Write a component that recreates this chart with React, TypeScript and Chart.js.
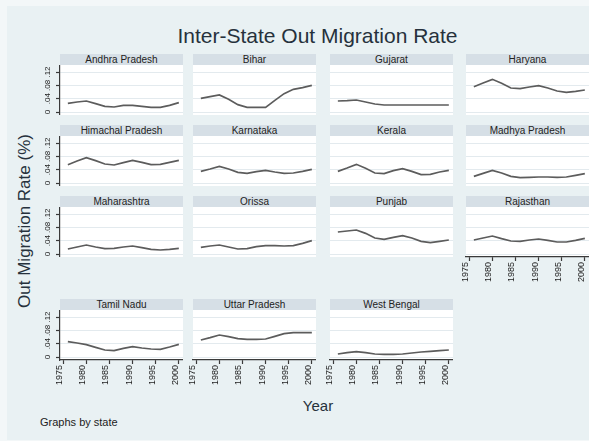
import React, { useEffect, useRef } from "react";
import { Chart, registerables } from "chart.js";

Chart.register(...registerables);

// ---------- data ----------
const years = [1976, 1978, 1980, 1982, 1984, 1986, 1988, 1990, 1992, 1994, 1996, 1998, 2000];
const xTickYears = [1975, 1980, 1985, 1990, 1995, 2000];
const yTickValues = [0, 0.04, 0.08, 0.12];
const yTickLabels = ["0", ".04", ".08", ".12"];

const stateNames = [
  "Andhra Pradesh", "Bihar", "Gujarat", "Haryana",
  "Himachal Pradesh", "Karnataka", "Kerala", "Madhya Pradesh",
  "Maharashtra", "Orissa", "Punjab", "Rajasthan",
  "Tamil Nadu", "Uttar Pradesh", "West Bengal",
];

const andhraPradesh = [0.026, 0.030, 0.033, 0.025, 0.017, 0.015, 0.020, 0.020, 0.017, 0.014, 0.014, 0.020, 0.028];
const bihar = [0.041, 0.046, 0.051, 0.038, 0.022, 0.014, 0.014, 0.014, 0.035, 0.055, 0.068, 0.073, 0.080];
const gujarat = [0.033, 0.034, 0.036, 0.030, 0.024, 0.021, 0.021, 0.021, 0.021, 0.021, 0.021, 0.021, 0.021];
const haryana = [0.076, 0.087, 0.098, 0.086, 0.072, 0.070, 0.075, 0.079, 0.072, 0.063, 0.059, 0.062, 0.066];
const himachalPradesh = [0.055, 0.066, 0.076, 0.067, 0.057, 0.054, 0.061, 0.068, 0.062, 0.055, 0.056, 0.062, 0.068];
const karnataka = [0.035, 0.042, 0.050, 0.042, 0.032, 0.029, 0.034, 0.038, 0.033, 0.029, 0.030, 0.035, 0.041];
const kerala = [0.035, 0.045, 0.056, 0.044, 0.030, 0.028, 0.037, 0.043, 0.035, 0.025, 0.026, 0.033, 0.038];
const madhyaPradesh = [0.020, 0.029, 0.038, 0.030, 0.020, 0.016, 0.017, 0.018, 0.018, 0.017, 0.018, 0.023, 0.028];
const maharashtra = [0.015, 0.021, 0.027, 0.021, 0.016, 0.017, 0.021, 0.024, 0.019, 0.014, 0.012, 0.014, 0.017];
const orissa = [0.020, 0.024, 0.027, 0.021, 0.015, 0.016, 0.022, 0.025, 0.025, 0.024, 0.025, 0.032, 0.040];
const punjab = [0.066, 0.069, 0.072, 0.062, 0.048, 0.044, 0.050, 0.055, 0.048, 0.038, 0.034, 0.038, 0.042];
const rajasthan = [0.042, 0.048, 0.054, 0.046, 0.039, 0.038, 0.042, 0.045, 0.041, 0.036, 0.036, 0.041, 0.047];
const tamilNadu = [0.046, 0.042, 0.037, 0.029, 0.021, 0.019, 0.026, 0.031, 0.027, 0.024, 0.023, 0.030, 0.038];
const uttarPradesh = [0.051, 0.058, 0.066, 0.061, 0.055, 0.053, 0.053, 0.054, 0.062, 0.070, 0.073, 0.073, 0.073];
const westBengal = [0.009, 0.013, 0.016, 0.013, 0.009, 0.008, 0.008, 0.009, 0.012, 0.015, 0.017, 0.019, 0.021];

const stateValues = [
  andhraPradesh, bihar, gujarat, haryana,
  himachalPradesh, karnataka, kerala, madhyaPradesh,
  maharashtra, orissa, punjab, rajasthan,
  tamilNadu, uttarPradesh, westBengal,
];

// ---------- layout / style ----------
const FONT = '"Liberation Sans", Arial, Helvetica, sans-serif';
const COL_LEFT = [60, 193, 330, 466];
const ROW_ZERO = [112, 183, 254, 357];
const PLOT_W = 123;
const PLOT_ABOVE = 47;
const PLOT_BELOW = 3;
const STRIP_H = 11;
const Y_AXIS_W = 45;
const SIDE_PAD = 9;
const X_AXIS_H = 30;
const X_MIN = 1974.3;
const X_MAX = 2000.9;
const Y_MIN = -PLOT_BELOW / 333.3;
const Y_MAX = PLOT_ABOVE / 333.3;

const BG_OUTER = "#f3f7f8";
const BG = "#e9f1f3";
const STRIP = "#d6dfe6";
const GRID = "#e3eaee";
const AXIS = "#3a3a3a";
const LINE = "#5c5c5c";
const TEXT = "#222222";

const plotBg = {
  id: "plotBg",
  beforeDraw(chart: any) {
    const { ctx, chartArea } = chart;
    if (!chartArea) return;
    ctx.save();
    ctx.fillStyle = "#ffffff";
    ctx.fillRect(chartArea.left, chartArea.top, chartArea.right - chartArea.left, chartArea.bottom - chartArea.top);
    ctx.restore();
  },
};

function Panel({ index }: { index: number }) {
  const ref = useRef<HTMLCanvasElement | null>(null);
  const r = Math.floor(index / 4);
  const c = index % 4;
  const hasY = c === 0;
  const hasX = r === 3 || (r === 2 && c === 3);
  const leftW = hasY ? Y_AXIS_W : hasX ? SIDE_PAD : 0;
  const plotTop = ROW_ZERO[r] - PLOT_ABOVE;
  const plotH = PLOT_ABOVE + PLOT_BELOW;
  const left = COL_LEFT[c] - leftW;
  const width = PLOT_W + leftW;
  const height = plotH + (hasX ? X_AXIS_H : 0);

  useEffect(() => {
    if (!ref.current) return;
    const values = stateValues[index];
    const zeroPad = (s: any) => {
      s.paddingTop = 0;
      s.paddingBottom = 0;
      s.paddingLeft = 0;
      s.paddingRight = 0;
    };
    const chart = new Chart(ref.current, {
      type: "line",
      data: {
        datasets: [
          {
            label: stateNames[index],
            data: years.map((yr, i) => ({ x: yr, y: values[i] })),
            borderColor: LINE,
            borderWidth: 1.7,
            pointRadius: 0,
            tension: 0,
            fill: false,
          },
        ],
      },
      options: {
        animation: false,
        responsive: false,
        maintainAspectRatio: false,
        layout: { padding: 0 },
        plugins: { legend: { display: false }, tooltip: { enabled: false }, title: { display: false } },
        scales: {
          x: {
            type: "linear",
            min: X_MIN,
            max: X_MAX,
            display: hasX,
            afterBuildTicks: (s: any) => {
              s.ticks = xTickYears.map((v) => ({ value: v }));
            },
            afterFit: (s: any) => {
              s.height = hasX ? X_AXIS_H : 0;
              zeroPad(s);
            },
            border: { display: true, color: AXIS, width: 1.2 },
            grid: { display: true, drawOnChartArea: false, drawTicks: true, tickLength: 4, tickColor: AXIS, tickWidth: 1.2 },
            ticks: {
              autoSkip: false,
              minRotation: 90,
              maxRotation: 90,
              padding: 1,
              labelOffset: -3.5,
              color: TEXT,
              font: { family: FONT, size: 9 },
              callback: (v: any) => String(v),
            },
          },
          y: {
            type: "linear",
            min: Y_MIN,
            max: Y_MAX,
            display: true,
            afterBuildTicks: (s: any) => {
              s.ticks = yTickValues.map((v) => ({ value: v }));
            },
            afterFit: (s: any) => {
              s.width = leftW;
              zeroPad(s);
            },
            border: { display: hasY, color: AXIS, width: 1.2 },
            grid: {
              display: true,
              drawOnChartArea: true,
              color: GRID,
              lineWidth: 1,
              drawTicks: hasY,
              tickLength: 4,
              tickColor: AXIS,
              tickWidth: 1.2,
            },
            ticks: {
              display: hasY,
              autoSkip: false,
              minRotation: 90,
              maxRotation: 90,
              crossAlign: "center",
              padding: 3,
              color: TEXT,
              font: { family: FONT, size: 8 },
              callback: (v: any) => {
                const k = yTickValues.findIndex((t) => Math.abs(t - v) < 1e-9);
                return k >= 0 ? yTickLabels[k] : "";
              },
            },
          },
        },
      } as any,
      plugins: [plotBg],
    });
    return () => chart.destroy();
  }, [index]);

  return (
    <>
      <div
        style={{
          position: "absolute",
          left: COL_LEFT[c],
          top: plotTop - STRIP_H,
          width: PLOT_W,
          height: STRIP_H,
          background: STRIP,
          color: TEXT,
          fontFamily: FONT,
          fontSize: 10,
          lineHeight: STRIP_H + "px",
          textAlign: "center",
          whiteSpace: "nowrap",
          overflow: "hidden",
        }}
      >
        {stateNames[index]}
      </div>
      <canvas
        ref={ref}
        width={width}
        height={height}
        style={{ position: "absolute", left, top: plotTop, width, height, display: "block" }}
      />
    </>
  );
}

export default function App() {
  return (
    <div
      style={{
        position: "fixed",
        left: 0,
        top: 0,
        width: 589,
        height: 441,
        background: BG_OUTER,
        overflow: "hidden",
        fontFamily: FONT,
      }}
    >
      <div style={{ position: "absolute", left: 7, top: 6, width: 582, height: 434, background: BG }} />
      <div
        style={{
          position: "absolute",
          left: 0,
          top: 23,
          width: 635,
          textAlign: "center",
          fontSize: 21,
          lineHeight: "25px",
          color: "#26313c",
          whiteSpace: "nowrap",
        }}
      >
        Inter-State Out Migration Rate
      </div>
      <div
        style={{
          position: "absolute",
          left: 25,
          top: 221,
          transform: "translate(-50%, -50%) rotate(-90deg)",
          fontSize: 17,
          lineHeight: "20px",
          color: "#26313c",
          whiteSpace: "nowrap",
        }}
      >
        Out Migration Rate (%)
      </div>
      <div
        style={{
          position: "absolute",
          left: 318,
          top: 406,
          transform: "translate(-50%, -50%)",
          fontSize: 15,
          lineHeight: "18px",
          color: "#26313c",
          whiteSpace: "nowrap",
        }}
      >
        Year
      </div>
      <div
        style={{
          position: "absolute",
          left: 40,
          top: 415,
          fontSize: 11,
          lineHeight: "14px",
          color: TEXT,
          whiteSpace: "nowrap",
        }}
      >
        Graphs by state
      </div>
      {stateNames.map((_, i) => (
        <Panel key={i} index={i} />
      ))}
    </div>
  );
}
